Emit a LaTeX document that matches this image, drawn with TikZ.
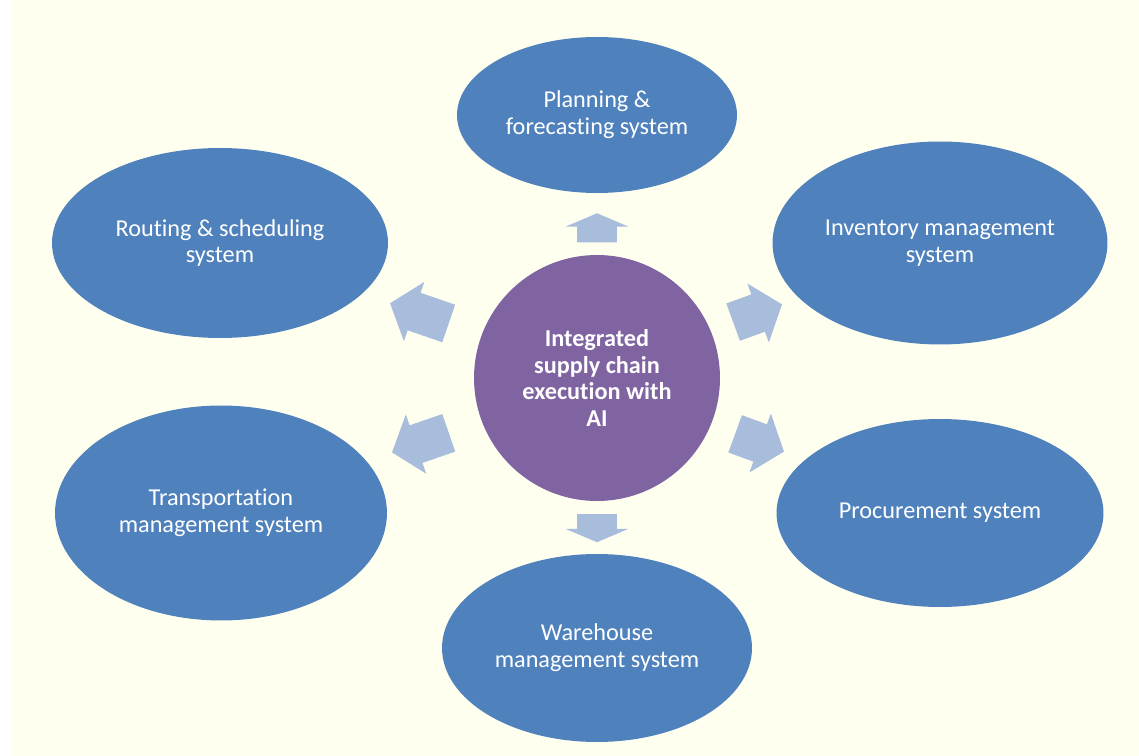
\documentclass[tikz,border=0pt]{standalone}
\usepackage{fontspec}
\setmainfont{Carlito}[Ligatures=NoCommon]
\usetikzlibrary{shapes.geometric, shapes.arrows}

\definecolor{sysblue}{RGB}{79,129,189}
\definecolor{hubpurple}{RGB}{128,100,162}
\definecolor{flowblue}{RGB}{168,188,220}
\definecolor{paper}{RGB}{255,255,240}

\begin{document}
\begin{tikzpicture}[x=0.02cm, y=-0.02cm,
  system/.style={ellipse, fill=sysblue, text=white, inner sep=0pt, align=center,
    font=\fontsize{13.8}{15.3}\selectfont},
  hub/.style={circle, fill=hubpurple, text=white, inner sep=0pt, minimum size=4.92cm,
    align=center, font=\fontsize{13.8}{15.3}\selectfont\bfseries},
  flow/.style={single arrow, fill=flowblue, inner xsep=0pt, inner ysep=0.39cm,
    single arrow head extend=0.23cm}]

% Page
\useasboundingbox (0,0) rectangle (1139,756);
\fill[paper] (11,0) rectangle (1139,756);

% === Hub ===
\node[hub] (hub) at (597,378) {Integrated\\supply chain\\execution with\\AI};

% === Systems ===
\node[system, minimum width=5.6cm, minimum height=3.12cm]
  (planning) at (597,115) {Planning \&\\forecasting system};
\node[system, minimum width=6.72cm, minimum height=3.8cm]
  (routing) at (220,243) {Routing \& scheduling\\system};
\node[system, minimum width=6.7cm, minimum height=4.06cm]
  (inventory) at (940,243) {Inventory management\\system};
\node[system, minimum width=6.64cm, minimum height=4.3cm]
  (transport) at (221,513) {Transportation\\management system};
\node[system, minimum width=6.54cm, minimum height=3.76cm]
  (procurement) at (940,513) {Procurement system};
\node[system, minimum width=6.2cm, minimum height=3.76cm]
  (warehouse) at (597,648) {Warehouse\\management system};

% === Flow arrows (name/x/y/angle/length/tip angle) ===
\foreach \name/\x/\y/\ang/\len/\tip in {
    up/597/232/90/29/134, down/597/524/-90/28/134,
    upleft/427/316/161/62/102, downleft/428/440/199/60/102,
    upright/750/316/20/52/102, downright/752/440/-20/52/102}{
  \node[flow, rotate=\ang, minimum height=\len*0.02cm, single arrow tip angle=\tip]
    (flow-\name) at (\x,\y) {};
}

\end{tikzpicture}
\end{document}
